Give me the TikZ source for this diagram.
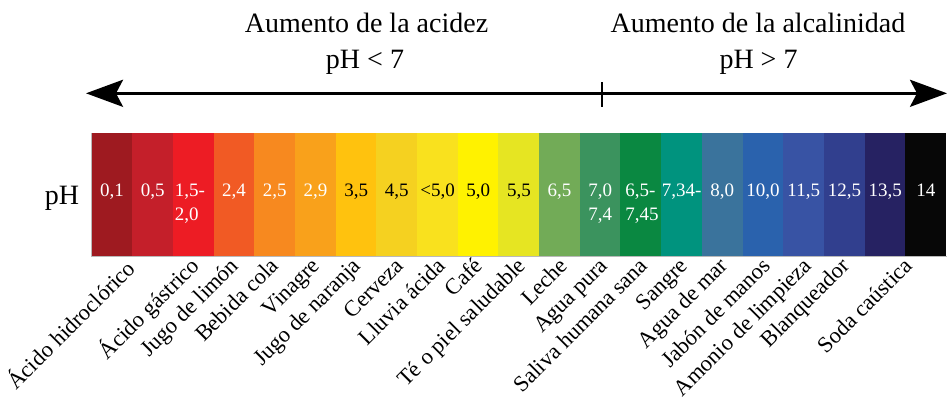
\documentclass[tikz,border=0pt]{standalone}
\usepackage{fontspec}
\setmainfont{Liberation Serif}
\usetikzlibrary{arrows.meta}
\definecolor{k1}{HTML}{9E1A20}
\definecolor{k2}{HTML}{C41F2A}
\definecolor{k3}{HTML}{ED1C24}
\definecolor{k4}{HTML}{F15A24}
\definecolor{k5}{HTML}{F7891F}
\definecolor{k6}{HTML}{F9A11B}
\definecolor{k7}{HTML}{FFC20E}
\definecolor{k8}{HTML}{F5D120}
\definecolor{k9}{HTML}{F9E11E}
\definecolor{k10}{HTML}{FFF200}
\definecolor{k11}{HTML}{E6E522}
\definecolor{k12}{HTML}{72AB57}
\definecolor{k13}{HTML}{3B935E}
\definecolor{k14}{HTML}{0A8841}
\definecolor{k15}{HTML}{00937E}
\definecolor{k16}{HTML}{3A739C}
\definecolor{k17}{HTML}{2A62AD}
\definecolor{k18}{HTML}{3853A4}
\definecolor{k19}{HTML}{313F8E}
\definecolor{k20}{HTML}{262262}
\definecolor{k21}{HTML}{070707}
\begin{document}
\begin{tikzpicture}[x=1pt,y=-1pt,
  cell/.style={draw=none,inner sep=0pt,minimum width=41pt,minimum height=123pt,anchor=north west},
  val/.style={inner sep=0pt,font=\fontsize{19}{21}\selectfont,anchor=base},
  lab/.style={inner sep=0pt,font=\fontsize{22.5}{25}\selectfont,anchor=base east,rotate=45},
  head/.style={inner sep=0pt,font=\fontsize{28}{32}\selectfont,anchor=base},
  >={Stealth[length=37pt,width=27pt,inset=7pt]}
]
\useasboundingbox (0,0) rectangle (949,400);
% colour bar
\foreach \i in {1,...,21}
  \node[cell,fill=k\i] (c\i) at ({91.3+(\i-1)*40.69},133) {};
\draw[gray!55,line width=1pt] (c1.north west) -- (c1.south west) -- (c21.south east);
% values
\node[val,white] (v1) at ([yshift=-63pt]c1.north) {0,1};
\node[val,white] (v2) at ([yshift=-63pt]c2.north) {0,5};
\node[val,white,anchor=base west] (v3) at ([xshift=2pt,yshift=-63pt]c3.north west) {1,5-};
\node[val,white,anchor=base west] (v3b) at ([xshift=2pt,yshift=-87pt]c3.north west) {2,0};
\node[val,white] (v4) at ([yshift=-63pt]c4.north) {2,4};
\node[val,white] (v5) at ([yshift=-63pt]c5.north) {2,5};
\node[val,white] (v6) at ([yshift=-63pt]c6.north) {2,9};
\node[val,black] (v7) at ([yshift=-63pt]c7.north) {3,5};
\node[val,black] (v8) at ([yshift=-63pt]c8.north) {4,5};
\node[val,black] (v9) at ([yshift=-63pt]c9.north) {<5,0};
\node[val,black] (v10) at ([yshift=-63pt]c10.north) {5,0};
\node[val,black] (v11) at ([yshift=-63pt]c11.north) {5,5};
\node[val,white] (v12) at ([yshift=-63pt]c12.north) {6,5};
\node[val,white] (v13) at ([yshift=-63pt]c13.north) {7,0};
\node[val,white] (v13b) at ([yshift=-87pt]c13.north) {7,4};
\node[val,white,anchor=base west] (v14) at ([xshift=5pt,yshift=-63pt]c14.north west) {6,5-};
\node[val,white,anchor=base west] (v14b) at ([xshift=5pt,yshift=-87pt]c14.north west) {7,45};
\node[val,white] (v15) at ([yshift=-63pt]c15.north) {7,34-};
\node[val,white] (v16) at ([yshift=-63pt]c16.north) {8,0};
\node[val,white] (v17) at ([yshift=-63pt]c17.north) {10,0};
\node[val,white] (v18) at ([yshift=-63pt]c18.north) {11,5};
\node[val,white] (v19) at ([yshift=-63pt]c19.north) {12,5};
\node[val,white] (v20) at ([yshift=-63pt]c20.north) {13,5};
\node[val,white] (v21) at ([yshift=-63pt]c21.north) {14};
% pH label
\node[head] (ph) at (62,204) {pH};
% headings
\node[head] (h1) at (366.5,32) {Aumento de la acidez};
\node[head] (h2) at (365,68) {pH < 7};
\node[head] (h3) at (758,32) {Aumento de la alcalinidad};
\node[head] (h4) at (758.5,68) {pH > 7};
% arrow
\coordinate (aL) at (86,93.3);
\coordinate (aR) at (947,93.3);
\draw[line width=3pt,<->] (aL) -- (aR);
\coordinate (t1) at (602,82);
\coordinate (t2) at (602,107);
\draw[line width=1.5pt] (t1) -- (t2);
% substance labels
\node[lab] (l1) at (137,270) {Ácido hidroclórico};
\node[lab] (l2) at (201,267) {Ácido gástrico};
\node[lab] (l3) at (240,267) {Jugo de limón};
\node[lab] (l4) at (280,267) {Bebida cola};
\node[lab] (l5) at (321,267) {Vinagre};
\node[lab] (l6) at (362,267) {Jugo de naranja};
\node[lab] (l7) at (405,267) {Cerveza};
\node[lab] (l8) at (447,267) {Lluvia ácida};
\node[lab] (l9) at (484,267) {Café};
\node[lab] (l10) at (527,267) {Té o piel saludable};
\node[lab] (l11) at (569,267) {Leche};
\node[lab] (l12) at (609,267) {Agua pura};
\node[lab] (l13) at (649,267) {Saliva humana sana};
\node[lab] (l14) at (689,267) {Sangre};
\node[lab] (l15) at (729,267) {Agua de mar};
\node[lab] (l16) at (772,267) {Jabón de manos};
\node[lab] (l17) at (813,267) {Amonio de limpieza};
\node[lab] (l18) at (851,267) {Blanqueador};
\node[lab] (l19) at (914,267) {Soda caústica};
\end{tikzpicture}
\end{document}
